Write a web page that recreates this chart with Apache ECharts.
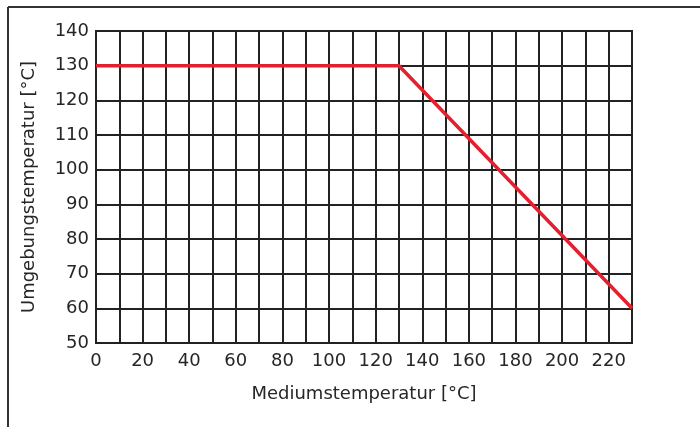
<!DOCTYPE html>
<html>
<head>
<meta charset="utf-8">
<script src="https://cdn.jsdelivr.net/npm/echarts@6/dist/echarts.min.js"></script>
<style>html,body{margin:0;padding:0;background:#fff;}#c{width:700px;height:427px;}</style>
</head>
<body>
<div id="c"></div>
<script>
const mediumTemp = [0, 130, 230];
const ambientTemp = [130, 130, 60];
const xTickLabels = [0, 20, 40, 60, 80, 100, 120, 140, 160, 180, 200, 220];
const xAxisTitle = 'Mediumstemperatur [°C]';
const yAxisTitle = 'Umgebungstemperatur [°C]';

const chart = echarts.init(document.getElementById('c'), null, {renderer: 'canvas'});
const font = 'DejaVu Sans';
const txt = '#262626';
const gridColor = '#222';
chart.setOption({
  animation: false,
  backgroundColor: '#fff',
  graphic: [
    {type: 'line', shape: {x1: 8, y1: 7, x2: 700, y2: 7}, style: {stroke: '#333', lineWidth: 2}},
    {type: 'line', shape: {x1: 8, y1: 7, x2: 8, y2: 427}, style: {stroke: '#333', lineWidth: 2}}
  ],
  grid: {left: 96, top: 31, right: 68, bottom: 84, show: true, borderColor: gridColor, borderWidth: 2, containLabel: false},
  xAxis: {
    type: 'value', min: 0, max: 230, interval: 10,
    name: xAxisTitle, nameLocation: 'middle', nameGap: 42,
    nameTextStyle: {fontFamily: font, fontSize: 18, color: txt},
    axisLine: {show: true, lineStyle: {color: gridColor, width: 2}},
    axisTick: {show: false},
    splitLine: {show: true, lineStyle: {color: gridColor, width: 2}},
    axisLabel: {
      fontFamily: font, fontSize: 18, color: txt, margin: 9,
      formatter: function (v) { return xTickLabels.indexOf(v) >= 0 ? String(v) : ''; }
    }
  },
  yAxis: {
    type: 'value', min: 50, max: 140, interval: 10,
    name: yAxisTitle, nameLocation: 'middle', nameGap: 58,
    nameTextStyle: {fontFamily: font, fontSize: 18, color: txt},
    axisLine: {show: true, lineStyle: {color: gridColor, width: 2}},
    axisTick: {show: false},
    splitLine: {show: true, lineStyle: {color: gridColor, width: 2}},
    axisLabel: {fontFamily: font, fontSize: 18, color: txt, margin: 7}
  },
  series: [{
    type: 'line',
    data: mediumTemp.map((x, i) => [x, ambientTemp[i]]),
    symbol: 'none',
    lineStyle: {color: '#e5202e', width: 3.5},
    z: 5
  }]
});
</script>
</body>
</html>
